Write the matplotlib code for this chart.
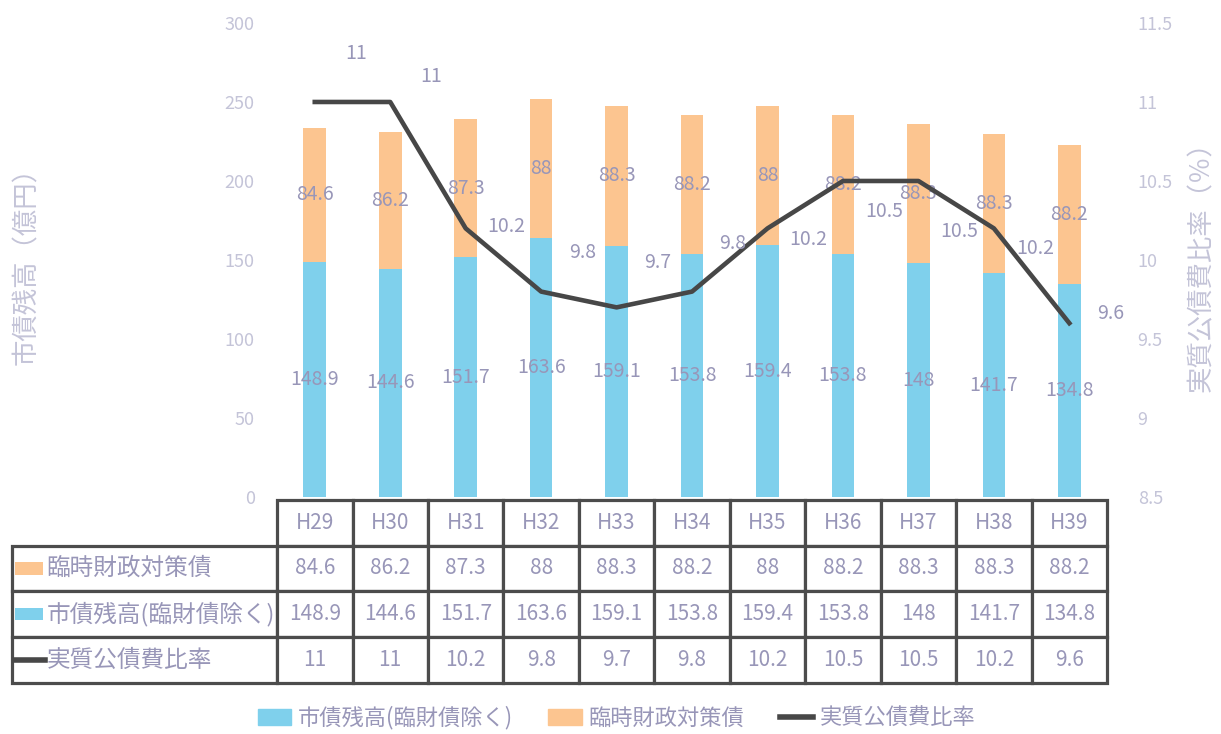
import matplotlib
matplotlib.use("Agg")
import matplotlib.pyplot as plt
import matplotlib.patches as mpatches
from matplotlib.lines import Line2D
from matplotlib.ticker import FuncFormatter
import numpy as np

plt.rcParams['font.family'] = ['Noto Sans CJK JP', 'DejaVu Sans']

# data
years = ["H29", "H30", "H31", "H32", "H33", "H34", "H35", "H36", "H37", "H38", "H39"]
rinzai = [84.6, 86.2, 87.3, 88, 88.3, 88.2, 88, 88.2, 88.3, 88.3, 88.2]
shisai = [148.9, 144.6, 151.7, 163.6, 159.1, 153.8, 159.4, 153.8, 148, 141.7, 134.8]
ratio = [11, 11, 10.2, 9.8, 9.7, 9.8, 10.2, 10.5, 10.5, 10.2, 9.6]

name_rinzai = "臨時財政対策債"
name_shisai = "市債残高(臨財債除く)"
name_ratio = "実質公債費比率"

# styles
blue = "#7fd0ec"
orange = "#fcc590"
dark = "#474747"
txt = "#9896b8"
tick_col = "#c4c4d8"
# label offsets (pixels) of the ratio labels, as placed in the original
rate_dy = [48, 25, 2, 39, 45, 48, -11, -31, -51, -20, 10]

fig = plt.figure(figsize=(12.21, 7.34), dpi=100)
ax = fig.add_axes([0.2269, 0.3229, 0.6798, 0.6458])
x = np.arange(len(years))

b1 = ax.bar(x, shisai, width=0.3, color=blue)
b2 = ax.bar(x, rinzai, width=0.3, bottom=shisai, color=orange)
ax.bar_label(b1, labels=[f"{v:g}" for v in shisai], label_type='center', fontsize=14, color=txt)
ax.bar_label(b2, labels=[f"{v:g}" for v in rinzai], label_type='center', fontsize=14, color=txt)

ax.set_xlim(-0.5, len(years) - 0.5)
ax.set_ylim(0, 300)
ax.set_yticks(range(0, 301, 50))
ax.set_xticks([])
ax.tick_params(axis='y', length=0, pad=16, labelsize=13, labelcolor=tick_col)
for s in ax.spines.values():
    s.set_visible(False)
ax.set_ylabel("市債残高（億円）", fontsize=19, color=tick_col)
ax.yaxis.set_label_coords(-0.2855, 0.5)

ax2 = ax.twinx()
ax2.plot(x, ratio, color=dark, lw=3.3)
for i, v in enumerate(ratio):
    ax2.annotate(f"{v:g}", (i, v), xytext=(41, rate_dy[i]), textcoords='offset pixels',
                 ha='center', va='center', fontsize=14, color=txt)
ax2.set_ylim(8.5, 11.5)
ax2.set_yticks(np.arange(8.5, 11.51, 0.5))
ax2.yaxis.set_major_formatter(FuncFormatter(lambda v, _: f"{v:g}"))
ax2.tick_params(axis='y', length=0, pad=22, labelsize=13, labelcolor=tick_col)
for s in ax2.spines.values():
    s.set_visible(False)
ax2.set_ylabel("実質公債費比率（％）", fontsize=19, color=tick_col)
ax2.yaxis.set_label_coords(1.0976, 0.5)

# data table under the chart (first column holds the row names)
lab_w = 265
col_w = 75.5
x_left = -lab_w / (col_w * len(years))
tb_top = -0.006
tb_h = 0.386
cells = [[name] + [f"{v:g}" for v in vals]
         for name, vals in [(name_rinzai, rinzai), (name_shisai, shisai), (name_ratio, ratio)]]
tbl = ax.table(cellText=cells, colLabels=[""] + years, colWidths=[lab_w] + [col_w] * len(years),
               cellLoc='center', bbox=[x_left, tb_top - tb_h, 1 - x_left, tb_h])
tbl.auto_set_font_size(False)
for (r, c), cell in tbl.get_celld().items():
    cell.set_edgecolor("#4c4c4c")
    cell.set_linewidth(2.3)
    cell.get_text().set_color(txt)
    cell.get_text().set_fontsize(15)
    if c == 0:
        if r == 0:
            cell.set_visible(False)
        cell.get_text().set_ha('left')
        cell.get_text().set_fontsize(17)
        cell.PAD = 0.13

# legend keys inside the row name cells
row_h = tb_h / 4
kx = x_left + 3 / 830
kw = 28 / 830
for r, col in [(1, orange), (2, blue)]:
    yc = tb_top - row_h * (r + 0.5)
    ax.add_patch(mpatches.Rectangle((kx, yc - 0.013), kw, 0.026, facecolor=col,
                                    transform=ax.transAxes, clip_on=False))
yc = tb_top - row_h * 3.5
ax.add_line(Line2D([kx, kx + 30 / 830], [yc, yc], color=dark, lw=4,
                   transform=ax.transAxes, clip_on=False))

handles = [mpatches.Patch(color=blue), mpatches.Patch(color=orange), Line2D([], [], color=dark, lw=4)]
fig.legend(handles, [name_shisai, name_rinzai, name_ratio], loc='lower center',
           bbox_to_anchor=(0.505, 0.0), ncol=3, frameon=False, fontsize=16,
           labelcolor=txt, handlelength=1.5, handletextpad=0.3, columnspacing=1.6,
           borderaxespad=0.1, borderpad=0.1)

fig.savefig("out.png", dpi=100)
